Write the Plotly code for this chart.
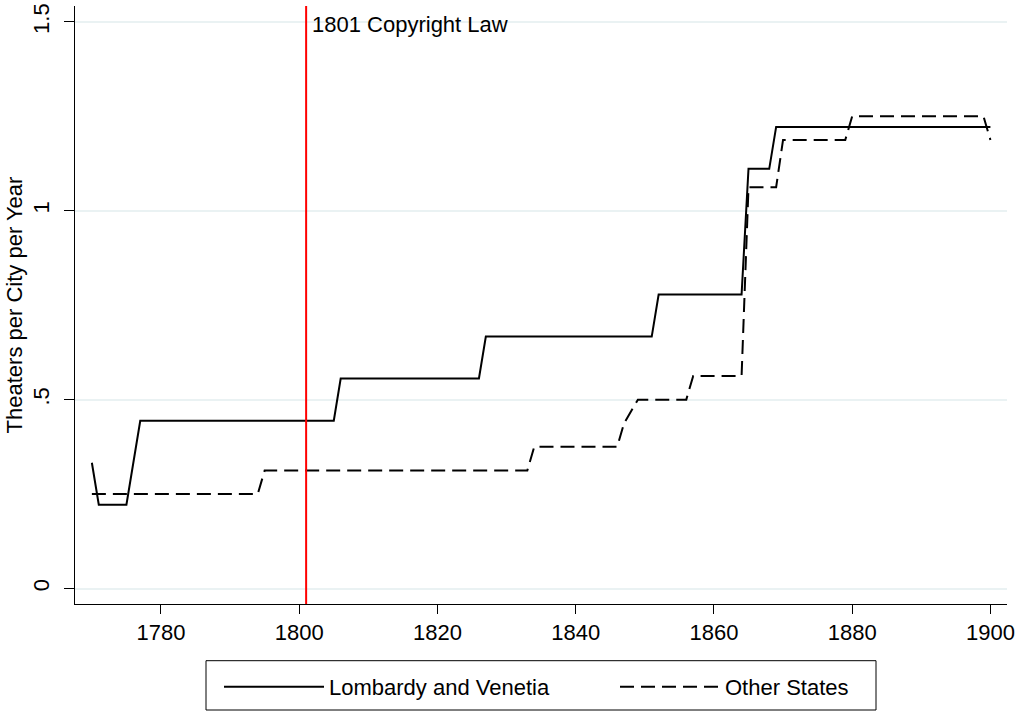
import plotly.graph_objects as go

# Lombardy and Venetia (breakpoints of the step series)
lv_years = [1770, 1771, 1775, 1777, 1805, 1806, 1826, 1827, 1851, 1852, 1864, 1865, 1868, 1869, 1900]
lv_values = [0.333, 0.222, 0.222, 0.444, 0.444, 0.556, 0.556, 0.667, 0.667, 0.778, 0.778, 1.111, 1.111, 1.222, 1.222]

# Other States
os_years = [1770, 1794, 1795, 1833, 1834, 1846, 1847, 1849, 1856, 1857, 1864, 1865, 1869, 1870, 1879, 1880, 1899, 1900]
os_values = [0.25, 0.25, 0.3125, 0.3125, 0.375, 0.375, 0.4375, 0.5, 0.5, 0.5625, 0.5625, 1.0625, 1.0625, 1.1875, 1.1875, 1.25, 1.25, 1.1875]

x_ticks = [1780, 1800, 1820, 1840, 1860, 1880, 1900]
y_ticks = [0, 0.5, 1, 1.5]
y_ticktext = ["0", ".5", "1", "1.5"]

law_year = 1801
law_label = "1801 Copyright Law"

FONT = "Liberation Sans, Arial, Helvetica, sans-serif"

fig = go.Figure()
fig.add_trace(go.Scatter(x=lv_years, y=lv_values, mode="lines", name="Lombardy and Venetia",
                         line=dict(color="black", width=2)))
fig.add_trace(go.Scatter(x=os_years, y=os_values, mode="lines", name="Other States",
                         line=dict(color="black", width=2, dash="14px,7px")))

fig.add_shape(type="line", xref="x", yref="paper", x0=law_year, x1=law_year, y0=0, y1=1,
              line=dict(color="#ff0000", width=2), layer="above")
fig.add_annotation(x=law_year, y=1.5, xref="x", yref="y", text=law_label, showarrow=False,
                   xanchor="left", yanchor="middle", xshift=4, yshift=-3,
                   font=dict(family=FONT, size=22, color="black"))

# legend frame
L, R, T, B = 75, 14, 6, 107
W, H = 1021, 711
pw, ph = W - L - R, H - T - B
fig.add_shape(type="rect", xref="paper", yref="paper",
              x0=(206 - L) / pw, x1=(876 - L) / pw,
              y0=(H - B - 710) / ph, y1=(H - B - 660.7) / ph,
              line=dict(color="black", width=1), fillcolor="white", layer="below")

fig.update_layout(
    template="none",
    width=W, height=H,
    margin=dict(l=L, r=R, t=T, b=B, autoexpand=False),
    plot_bgcolor="white", paper_bgcolor="white",
    font=dict(family=FONT, size=22, color="black"),
    showlegend=True,
    legend=dict(orientation="h", x=(219 - L) / pw, xanchor="left",
                y=(H - B - 666) / ph, yanchor="top",
                bgcolor="rgba(0,0,0,0)", borderwidth=0,
                itemwidth=100, entrywidth=281, entrywidthmode="pixels",
                font=dict(family=FONT, size=22, color="black")),
    xaxis=dict(range=[1767.56, 1902.4], tickvals=x_ticks, showgrid=False, zeroline=False,
               automargin=False,
               showline=True, linecolor="black", linewidth=1,
               ticks="outside", ticklen=9, tickcolor="black", tickwidth=1,
               tickfont=dict(family=FONT, size=22)),
    yaxis=dict(range=[-0.041, 1.542], tickvals=y_ticks, ticktext=y_ticktext,
               automargin=False,
               showgrid=True, gridcolor="#eaf2f3", gridwidth=1.5, zeroline=False,
               showline=True, linecolor="black", linewidth=1,
               ticks="outside", ticklen=10, tickcolor="black", tickwidth=1,
               tickangle=-90, tickfont=dict(family=FONT, size=22), ticklabelstandoff=6,
               title=dict(text="Theaters per City per Year", font=dict(family=FONT, size=22), standoff=0)),
)

fig.write_html("out.html",
               config={"displayModeBar": False},
               post_script="document.body.style.margin='0';document.body.style.overflow='hidden';")
